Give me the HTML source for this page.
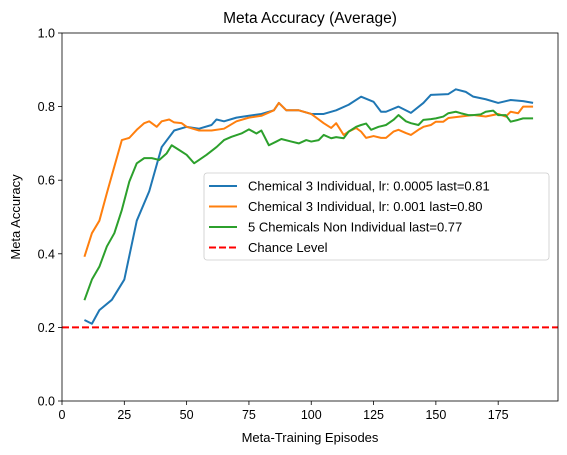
<!DOCTYPE html>
<html><head><meta charset="utf-8">
<style>
html,body{margin:0;padding:0;background:#fff;}
svg{display:block;font-family:"Liberation Sans","DejaVu Sans",sans-serif;}
</style></head>
<body>
<svg id="chart" width="567" height="455" viewBox="0 0 567 455"></svg>
<script>
const blueX=[9,12,15,20,25,30,35,40,45,50,55,60,62,65,70,75,80,85,87,90,95,100,105,110,115,120,125,128,130,135,140,145,148,155,158,162,165,170,175,180,185,189];
const blueY=[0.22,0.21,0.247,0.275,0.33,0.49,0.57,0.69,0.735,0.745,0.74,0.75,0.765,0.76,0.77,0.775,0.78,0.79,0.81,0.79,0.79,0.78,0.78,0.79,0.805,0.827,0.813,0.786,0.786,0.80,0.783,0.81,0.832,0.834,0.847,0.84,0.827,0.82,0.81,0.818,0.815,0.81];
const orangeX=[9,12,15,18,21,24,27,30,33,35,38,40,43,45,48,50,55,60,65,70,75,80,85,87,90,95,100,105,108,110,113,115,118,120,122,125,128,130,133,135,138,140,143,145,148,150,153,155,160,165,170,175,178,180,183,185,189];
const orangeY=[0.392,0.456,0.49,0.565,0.637,0.709,0.715,0.737,0.755,0.76,0.745,0.76,0.765,0.757,0.755,0.745,0.735,0.735,0.74,0.76,0.77,0.775,0.79,0.81,0.79,0.79,0.78,0.755,0.742,0.755,0.723,0.732,0.742,0.732,0.715,0.72,0.715,0.715,0.732,0.737,0.728,0.723,0.737,0.745,0.75,0.759,0.759,0.769,0.773,0.777,0.773,0.78,0.773,0.786,0.782,0.80,0.80];
const greenX=[9,12,15,18,21,24,27,30,33,36,39,42,44,47,50,53,55,58,62,65,68,72,75,78,80,83,86,88,92,95,98,100,103,105,108,110,113,115,118,120,122,124,127,130,133,135,138,140,143,145,148,150,153,155,158,160,163,165,168,170,173,175,178,180,183,185,189];
const greenY=[0.274,0.33,0.365,0.42,0.456,0.519,0.596,0.646,0.66,0.66,0.655,0.673,0.695,0.682,0.669,0.646,0.655,0.669,0.69,0.709,0.718,0.727,0.738,0.727,0.735,0.695,0.705,0.712,0.705,0.70,0.709,0.705,0.709,0.723,0.714,0.717,0.714,0.732,0.745,0.75,0.754,0.737,0.745,0.75,0.764,0.777,0.76,0.755,0.75,0.764,0.766,0.768,0.773,0.782,0.786,0.782,0.777,0.777,0.779,0.786,0.789,0.777,0.777,0.759,0.764,0.768,0.768];
const chance=0.2;
const xTicks=[0,25,50,75,100,125,150,175];
const yTicks=[0.0,0.2,0.4,0.6,0.8,1.0];
const legendLabels=["Chemical 3 Individual, lr: 0.0005 last=0.81","Chemical 3 Individual, lr: 0.001 last=0.80","5 Chemicals Non Individual last=0.77","Chance Level"];

const NS="http://www.w3.org/2000/svg";
const svg=document.getElementById('chart');
const L=62,R=558,T=33,B=401,XMAX=199;
const sx=v=>L+(v/XMAX)*(R-L);
const sy=v=>B-v*(B-T);
function mk(tag,attrs,parent){const e=document.createElementNS(NS,tag);for(const k in attrs)e.setAttribute(k,attrs[k]);(parent||svg).appendChild(e);return e;}

const title=mk('text',{x:310,y:23,'text-anchor':'middle','font-size':15.5,fill:'#000'});


title.textContent='Meta Accuracy (Average)';

const xg=mk('g',{});


xTicks.forEach(t=>{mk('line',{x1:sx(t),x2:sx(t),y1:B,y2:B+4,stroke:'#000','stroke-width':0.8},xg);
const tx=mk('text',{x:sx(t),y:B+18,'text-anchor':'middle','font-size':12.5},xg);


tx.textContent=t;});
const xl=mk('text',{x:310,y:442,'text-anchor':'middle','font-size':13});


xl.textContent='Meta-Training Episodes';

const yg=mk('g',{});


yTicks.forEach(t=>{mk('line',{x1:L-4,x2:L,y1:sy(t),y2:sy(t),stroke:'#000','stroke-width':0.8},yg);
const tx=mk('text',{x:L-7,y:sy(t)+4.5,'text-anchor':'end','font-size':12.5},yg);


tx.textContent=t.toFixed(1);});
const yl=mk('text',{x:20,y:217,'text-anchor':'middle','font-size':13,transform:'rotate(-90 20 217)'});


yl.textContent='Meta Accuracy';

function line(xs,ys,color,name){const p=mk('polyline',{points:xs.map((x,i)=>sx(x)+','+sy(ys[i])).join(' '),fill:'none',stroke:color,'stroke-width':2,'stroke-linejoin':'round'});

}
line(blueX,blueY,'#1f77b4','series-chemical3-lr0005');
line(orangeX,orangeY,'#ff7f0e','series-chemical3-lr001');
line(greenX,greenY,'#2ca02c','series-5-chemicals');
const cl=mk('line',{x1:L,x2:R,y1:sy(chance),y2:sy(chance),stroke:'#ff0000','stroke-width':2,'stroke-dasharray':'7,3'});



const frame=mk('rect',{x:L,y:T,width:R-L,height:B-T,fill:'none',stroke:'#000','stroke-width':0.8});



const lg=mk('g',{});


mk('rect',{x:204,y:173,width:345,height:87,rx:3,fill:'#fff','fill-opacity':0.8,stroke:'#ccc','stroke-width':0.8},lg);
const cols=['#1f77b4','#ff7f0e','#2ca02c','#ff0000'];
legendLabels.forEach((lab,i)=>{const y=186+i*20.5;
const e=mk('g',{},lg);


mk('line',{x1:209,x2:237,y1:y,y2:y,stroke:cols[i],'stroke-width':2,'stroke-dasharray':i==3?'7,3':'none'},e);
const t=mk('text',{x:248,y:y+4.5,'font-size':13},e);t.textContent=lab;});
</script>
</body></html>
